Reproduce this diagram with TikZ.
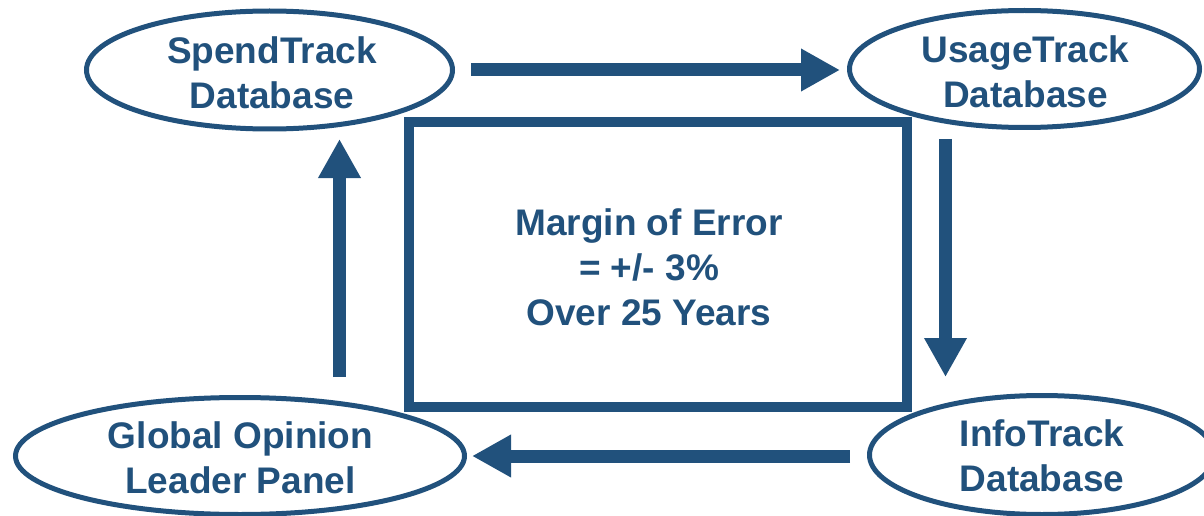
\documentclass[tikz,border=0pt]{standalone}
\usepackage{fontspec}
\setmainfont{Liberation Sans}
\usetikzlibrary{shapes.geometric,arrows.meta}
\definecolor{navy}{RGB}{33,81,124}
\tikzset{
  db/.style={ellipse, draw=navy, line width=5pt, inner sep=0pt, outer sep=0pt},
  caption/.style={text=navy, align=center, inner sep=0pt,
    font=\fontsize{37}{45}\selectfont\bfseries},
  frame/.style={rectangle, draw=navy, line width=10pt, inner sep=0pt, outer sep=0pt},
  flow/.style={draw=navy, line width=13pt,
    -{Triangle[length=39pt,width=40pt]}}
}
\begin{document}
\begin{tikzpicture}[x=1pt,y=-1pt]
  \useasboundingbox (0,0) rectangle (1204,516);

  % central box with the error statement
  \node[frame, minimum width=498pt, minimum height=285pt] (box) at (658,264.5) {};
  \node[caption] (moe) at (649,267) {Margin of Error\\= +/- 3\%\\Over 25 Years};

  % the four data sources
  \node[db, minimum width=366pt, minimum height=118pt] (spend) at (269.5,70) {};
  \node[db, minimum width=350pt, minimum height=117pt] (usage) at (1024.5,69) {};
  \node[db, minimum width=345pt, minimum height=119pt] (info) at (1042,455) {};
  \node[db, minimum width=449pt, minimum height=117pt] (panel) at (240,456) {};
  \node[caption] (spendtext) at (272,73) {SpendTrack\\Database};
  \node[caption] (usagetext) at (1025.5,72) {UsageTrack\\Database};
  \node[caption] (infotext) at (1042,456) {InfoTrack\\Database};
  \node[caption] (paneltext) at (240.5,458) {Global Opinion\\Leader Panel};

  % arrow end points around the box
  \coordinate (s1) at (471,70);
  \coordinate (s2) at (840,70);
  \coordinate (u1) at (945.5,139);
  \coordinate (u2) at (945.5,377);
  \coordinate (i1) at (850,456);
  \coordinate (i2) at (472,456);
  \coordinate (p1) at (339.5,377);
  \coordinate (p2) at (339.5,139);

  % clockwise flow between the sources
  \draw[flow] (s1) -- (s2);
  \draw[flow] (u1) -- (u2);
  \draw[flow] (i1) -- (i2);
  \draw[flow] (p1) -- (p2);
\end{tikzpicture}
\end{document}
